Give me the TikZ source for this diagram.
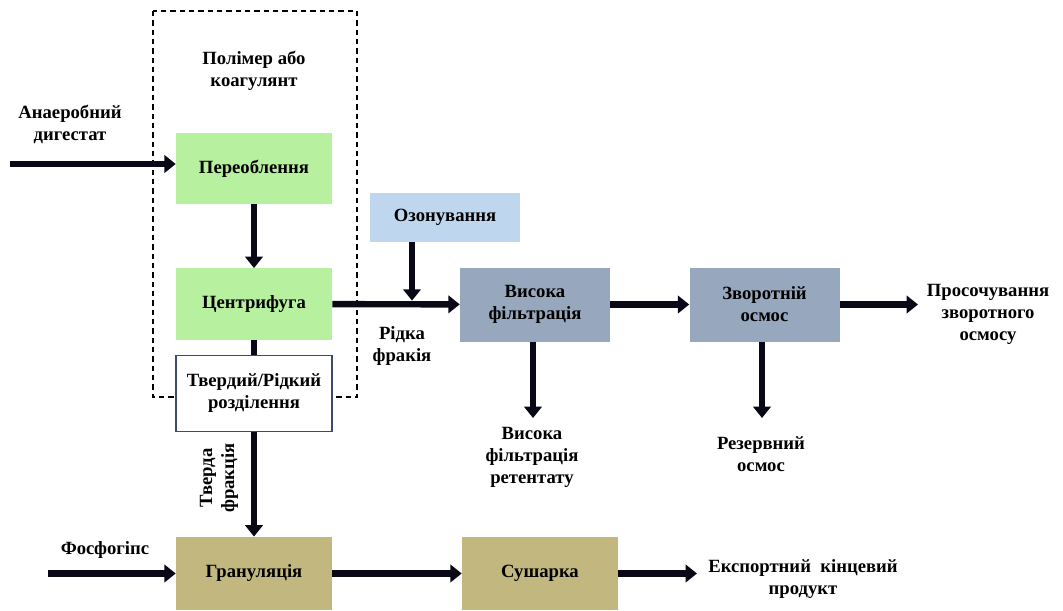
\documentclass[tikz,border=0pt]{standalone}
\usepackage{fontspec}
\setmainfont{Liberation Serif}
\usepackage{xcolor}
\usepackage{tikz}
\usetikzlibrary{arrows.meta,positioning}

\definecolor{procgreen}{RGB}{183,240,158}
\definecolor{ozoneblue}{RGB}{190,215,238}
\definecolor{filtgrey}{RGB}{150,167,190}
\definecolor{grankhaki}{RGB}{194,183,126}
\definecolor{sepframe}{RGB}{60,75,105}
\definecolor{flowink}{RGB}{8,8,22}

\begin{document}
\begin{tikzpicture}[
    x=0.75pt, y=-0.75pt,
    stage/.style={minimum width=117pt, minimum height=53.5pt, inner sep=2pt, align=center, font=\bfseries\fontsize{14}{16.5}\selectfont},
    note/.style={align=center, inner sep=1pt, font=\bfseries\fontsize{14}{16.5}\selectfont},
    arrow/.style={-{Triangle[length=8.5pt,width=13pt]}, line width=4.8pt, flowink},
    pipe/.style={line width=4.8pt, flowink}
]
    \useasboundingbox (0,0) rectangle (1063,610);

    % Dashed frame round the pretreatment
    \draw[dash pattern=on 4pt off 3pt, line width=0.8pt] (153,11) rectangle (357,397);

    % Stages
    \node[stage, fill=procgreen] (pere) at (254,168.5) {Переоблення};
    \node[stage, fill=procgreen] (centr) at (254,304) {Центрифуга};
    \node[stage, fill=white, draw=sepframe, line width=1.2pt, minimum width=117pt, minimum height=57pt] (sep) at (254,393.5) {Твердий/Рідкий\\розділення};
    \node[stage, fill=grankhaki, minimum height=55pt] (gran) at (254,573.5) {Грануляція};
    \node[stage, fill=grankhaki, minimum height=55pt] (sush) at (540,573.5) {Сушарка};
    \node[stage, fill=ozoneblue, minimum width=112.5pt, minimum height=37pt] (ozon) at (445,217.5) {Озонування};
    \node[stage, fill=filtgrey, minimum width=112.5pt, minimum height=55.5pt] (vf) at (535,304.5) {Висока\\фільтрація};
    \node[stage, fill=filtgrey, minimum width=112.5pt, minimum height=55.5pt] (zo) at (764.5,304.5) {Зворотній\\осмос};

    % Inputs and outputs
    \node[note] (poly) at (254,71) {Полімер або\\коагулянт};
    \node[note] (anaer) at (70,124) {Анаеробний\\дигестат};
    \node[note] (fosf) at (105,550) {Фосфогіпс};
    \node[note] (ridka) at (402,346) {Рідка\\фракія};
    \node[note, rotate=90] (tverda) at (219,478) {Тверда\\фракція};
    \node[note] (reten) at (532,457) {Висока\\фільтрація\\ретентату};
    \node[note] (rezerv) at (761,454) {Резервний\\осмос};
    \node[note] (prosoch) at (988,314) {Просочування\\зворотного\\осмосу};
    \node[note] (export) at (803,579) {Експортний\ \ кінцевий\\продукт};

    \coordinate (anaerin) at (10,164);
    \coordinate (fosfin) at (48,573.5);
    \coordinate (ozj) at (412,304);
    \coordinate (vfout) at (533,418);
    \coordinate (zoout) at (762,418);
    \coordinate (prosin) at (918,304.5);
    \coordinate (expin) at (697,573.5);

    % Flows
    \draw[arrow] (anaerin) -- (anaerin -| pere.west);
    \draw[arrow] (pere) -- (centr);
    \draw[pipe] (centr) -- (sep);
    \draw[arrow] (sep) -- (gran);
    \draw[arrow] (fosfin) -- (gran);
    \draw[arrow] (gran) -- (sush);
    \draw[arrow] (sush) -- (expin);
    \draw[arrow] (centr) -- (vf);
    \draw[arrow, shorten >=2.5pt] (ozon.south -| ozj) -- (ozj);
    \draw[arrow] (vf) -- (zo);
    \draw[arrow] (zo) -- (prosin);
    \draw[arrow] (vf.south -| vfout) -- (vfout);
    \draw[arrow] (zo.south -| zoout) -- (zoout);
\end{tikzpicture}
\end{document}
